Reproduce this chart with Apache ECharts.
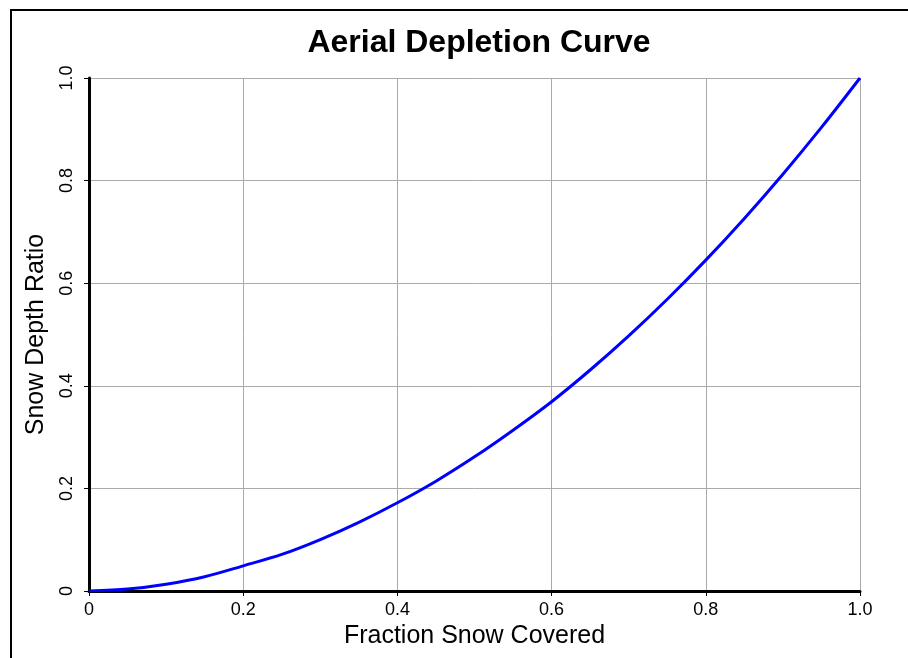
<!DOCTYPE html>
<html>
<head>
<meta charset="utf-8">
<script src="https://cdn.jsdelivr.net/npm/echarts@6/dist/echarts.min.js"></script>
<style>
html,body{margin:0;padding:0;background:#fff;}
#chart{width:908px;height:658px;}
</style>
</head>
<body>
<div id="chart"></div>
<script>
const titleText = 'Aerial Depletion Curve';
const xLabel = 'Fraction Snow Covered';
const yLabel = 'Snow Depth Ratio';
const fractionCovered = [0, 0.05, 0.1, 0.15, 0.2, 0.25, 0.3, 0.35, 0.4, 0.45, 0.5, 0.55, 0.6, 0.65, 0.7, 0.75, 0.8, 0.85, 0.9, 0.95, 1.0];
const depthRatio = [0, 0.0037, 0.0132, 0.0277, 0.049, 0.0713, 0.1003, 0.1339, 0.172, 0.2141, 0.2615, 0.3135, 0.369, 0.4308, 0.4974, 0.5688, 0.645, 0.7263, 0.8125, 0.9037, 1.0];

const chart = echarts.init(document.getElementById('chart'), null, {renderer: 'canvas'});
const fmt = v => (v === 0 ? '0' : v.toFixed(1));
const font = 'Liberation Sans, Arial, sans-serif';

chart.setOption({
  animation: false,
  backgroundColor: '#fff',
  title: {
    text: titleText,
    left: 474, textAlign: 'center', top: 22,
    textStyle: {fontFamily: font, fontSize: 32, fontWeight: 'bold', color: '#000'}
  },
  grid: {left: 89, right: 48, top: 78, bottom: 67, containLabel: false},
  xAxis: {
    type: 'value', min: 0, max: 1, interval: 0.2,
    name: xLabel, nameLocation: 'middle', nameGap: 32,
    nameTextStyle: {fontFamily: font, fontSize: 25, color: '#000'},
    axisLine: {show: true, onZero: false, lineStyle: {color: '#000', width: 3}},
    axisTick: {show: true, length: 5, lineStyle: {color: '#000', width: 1}},
    axisLabel: {formatter: fmt, fontFamily: font, fontSize: 18, color: '#000', margin: 10},
    splitLine: {show: true, lineStyle: {color: '#aaa', width: 1}}
  },
  yAxis: {
    type: 'value', min: 0, max: 1, interval: 0.2,
    name: yLabel, nameLocation: 'middle', nameGap: 40, nameRotate: 90,
    nameTextStyle: {fontFamily: font, fontSize: 25, color: '#000'},
    axisLine: {show: true, onZero: false, lineStyle: {color: '#000', width: 3}},
    axisTick: {show: true, length: 5, lineStyle: {color: '#000', width: 1}},
    axisLabel: {formatter: fmt, fontFamily: font, fontSize: 18, color: '#000', margin: 13, rotate: 90},
    splitLine: {show: true, lineStyle: {color: '#aaa', width: 1}}
  },
  series: [{
    type: 'line',
    data: fractionCovered.map((x, i) => [x, depthRatio[i]]),
    smooth: 0.3,
    showSymbol: false,
    lineStyle: {color: '#0000ff', width: 3},
    z: 5
  }],
  graphic: [
    {type: 'line', shape: {x1: 11, y1: 10, x2: 11, y2: 658}, style: {stroke: '#000', lineWidth: 2}},
    {type: 'line', shape: {x1: 10, y1: 10, x2: 908, y2: 10}, style: {stroke: '#000', lineWidth: 2}}
  ]
});
</script>
</body>
</html>
